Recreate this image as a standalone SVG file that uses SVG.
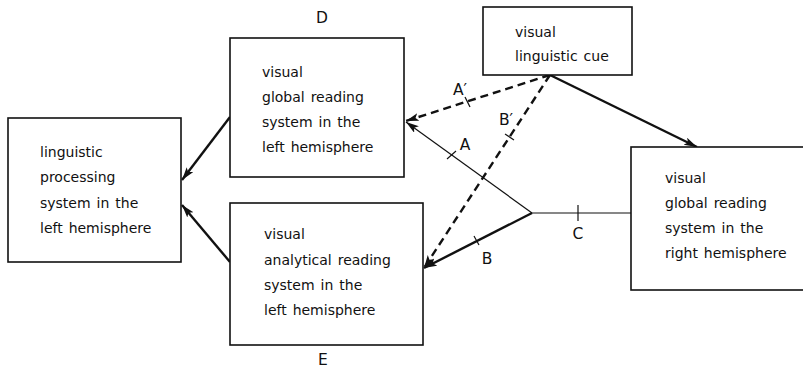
<svg xmlns="http://www.w3.org/2000/svg" width="803" height="370" viewBox="0 0 803 370">
<defs>
<style>
.box{fill:#fff;stroke:#111;stroke-width:1.6}
.t{font-family:"DejaVu Sans","Liberation Sans",sans-serif;font-size:14px;fill:#111;word-spacing:1.5px}
.lbl{font-family:"DejaVu Sans","Liberation Sans",sans-serif;font-size:15.5px;fill:#111;text-anchor:middle}
.thick{stroke:#111;stroke-width:2.4;fill:none}
.thin{stroke:#111;stroke-width:1.2;fill:none}
.dash{stroke:#111;stroke-width:2.4;fill:none;stroke-dasharray:8 5}
.tick{stroke:#111;stroke-width:1.2}
</style>
<marker id="ah" markerUnits="userSpaceOnUse" markerWidth="14" markerHeight="10" refX="13" refY="4" orient="auto">
<path d="M0,0 L13,4 L0,8 L3,4 Z" fill="#111"/>
</marker>
</defs>
<g id="connectors">
<line class="thick" x1="230" y1="117" x2="182" y2="180" marker-end="url(#ah)"/>
<line class="thick" x1="230" y1="262" x2="182" y2="205" marker-end="url(#ah)"/>
<line class="dash" x1="550" y1="75" x2="406" y2="121" marker-end="url(#ah)"/>
<line class="dash" x1="550" y1="75" x2="424" y2="268" marker-end="url(#ah)"/>
<line class="thin" x1="532" y1="213" x2="406" y2="122" marker-end="url(#ah)"/>
<line class="thick" x1="532" y1="213" x2="424" y2="268" marker-end="url(#ah)"/>
<line class="thin" x1="532" y1="213" x2="631" y2="213"/>
<line class="thick" x1="550" y1="75" x2="697" y2="147" marker-end="url(#ah)"/>
<line class="tick" x1="465" y1="97" x2="470" y2="107"/>
<line class="tick" x1="505" y1="134" x2="514" y2="140"/>
<line class="tick" x1="447" y1="159" x2="456" y2="151"/>
<line class="tick" x1="474" y1="236" x2="479" y2="245"/>
<line class="tick" x1="578" y1="205" x2="578" y2="221"/>
<text class="lbl" x="460" y="95">A′</text>
<text class="lbl" x="506" y="125">B′</text>
<text class="lbl" x="465" y="150">A</text>
<text class="lbl" x="487" y="264">B</text>
<text class="lbl" x="578" y="239">C</text>
</g>
<g id="ling">
<rect class="box" x="8" y="118" width="173" height="144"/>
<text class="t" x="40" y="157">linguistic</text>
<text class="t" x="40" y="182">processing</text>
<text class="t" x="40" y="208">system in the</text>
<text class="t" x="40" y="233">left hemisphere</text>
</g>
<g id="D">
<rect class="box" x="230" y="38" width="174" height="139"/>
<text class="t" x="262" y="77">visual</text>
<text class="t" x="262" y="102">global reading</text>
<text class="t" x="262" y="127">system in the</text>
<text class="t" x="262" y="152">left hemisphere</text>
<text class="lbl" x="322" y="23">D</text>
</g>
<g id="E">
<rect class="box" x="230" y="203" width="193" height="142"/>
<text class="t" x="264" y="239">visual</text>
<text class="t" x="264" y="265">analytical reading</text>
<text class="t" x="264" y="290">system in the</text>
<text class="t" x="264" y="315">left hemisphere</text>
<text class="lbl" x="323" y="365">E</text>
</g>
<g id="cue">
<rect class="box" x="483" y="7" width="149" height="68"/>
<text class="t" x="515" y="37">visual</text>
<text class="t" x="515" y="61">linguistic cue</text>
</g>
<g id="right">
<rect class="box" x="631" y="147" width="185" height="143"/>
<text class="t" x="665" y="183">visual</text>
<text class="t" x="665" y="208">global reading</text>
<text class="t" x="665" y="233">system in the</text>
<text class="t" x="665" y="258">right hemisphere</text>
</g>
</svg>
